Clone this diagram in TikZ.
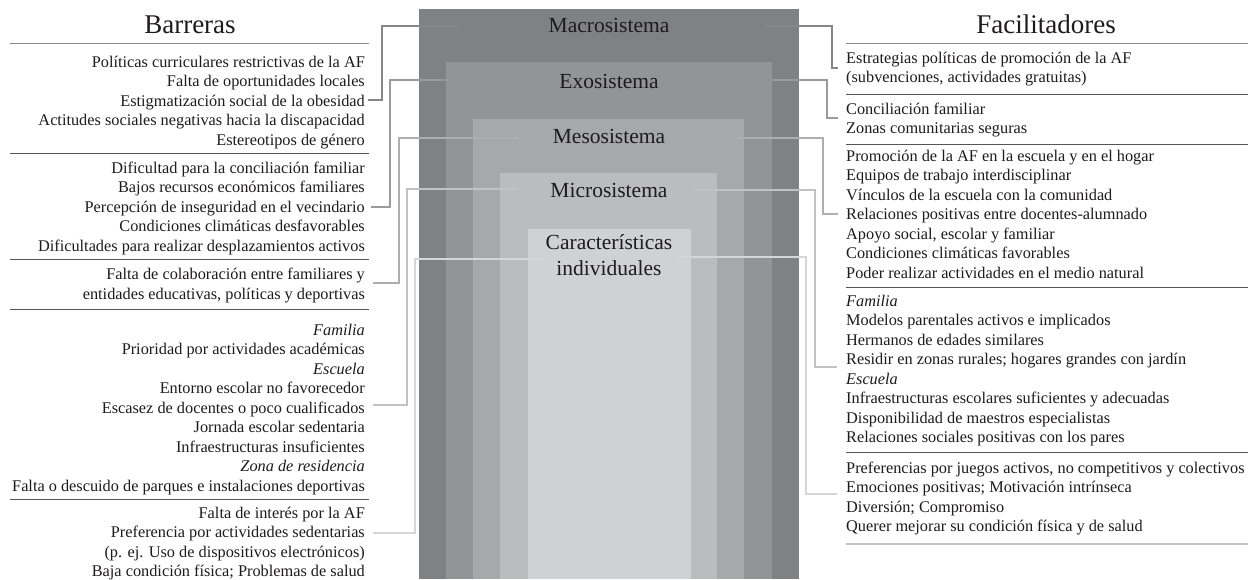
\documentclass[tikz,border=0pt]{standalone}
\usepackage{fontspec}
\setmainfont{Liberation Serif}
\definecolor{cMa}{HTML}{808185}
\definecolor{cEx}{HTML}{939498}
\definecolor{cMe}{HTML}{A7A8AB}
\definecolor{cMi}{HTML}{BBBCBF}
\definecolor{cIn}{HTML}{D0D1D3}
\definecolor{lMa}{HTML}{87878A}
\definecolor{lEx}{HTML}{9A9A9D}
\definecolor{lMe}{HTML}{AEAEB0}
\definecolor{lMi}{HTML}{C2C2C4}
\definecolor{lIn}{HTML}{D6D6D8}
\definecolor{ink}{HTML}{1E1B1C}
\definecolor{sepc}{HTML}{555555}
\definecolor{tsep}{HTML}{8A8A8A}
\begin{document}
\begin{tikzpicture}[x=1pt,y=-1pt,
  bl/.style={anchor=base east,inner sep=0pt,font=\fontsize{16.3}{19.5}\selectfont,text=ink},
  fl/.style={anchor=base west,inner sep=0pt,font=\fontsize{16.3}{19.5}\selectfont,text=ink},
  lvl/.style={anchor=base,inner sep=0pt,font=\fontsize{21.5}{26}\selectfont,text=ink},
  ttl/.style={anchor=base,inner sep=0pt,font=\fontsize{27}{32}\selectfont,text=ink},
  sepline/.style={draw=sepc,line width=1pt},
  tline/.style={draw=tsep,line width=0.9pt},
  cn/.style={line width=1.3pt}]
\useasboundingbox (0,0) rectangle (1253,579);
\fill[white] (0,0) rectangle (1253,579);
% nested systems
\fill[cMa] (419,9) rectangle (799,579);
\fill[cEx] (446,62) rectangle (772,579);
\fill[cMe] (473,119) rectangle (744,579);
\fill[cMi] (500,173) rectangle (717,579);
\fill[cIn] (528,229) rectangle (691,579);
\node[lvl] (macro) at (609,32) {Macrosistema};
\node[lvl] (exo) at (609,88) {Exosistema};
\node[lvl] (meso) at (609,143) {Mesosistema};
\node[lvl] (micro) at (609,197) {Microsistema};
\node[lvl] (indiv) at (609,249) {Características};
\node[lvl] (indiv2) at (609,275) {individuales};
% titles
\node[ttl] (tB) at (190,33) {Barreras};
\node[ttl] (tF) at (1046,33) {Facilitadores};
% separators left
\draw[tline] (10,43) -- (369,43);
\draw[sepline] (10,153) -- (369,153);
\draw[sepline] (10,259) -- (369,259);
\draw[sepline] (10,309) -- (369,309);
\draw[sepline] (10,499) -- (369,499);
% separators right
\draw[tline] (846,43) -- (1248,43);
\draw[sepline] (846,94) -- (1248,94);
\draw[sepline] (846,144) -- (1248,144);
\draw[sepline] (846,287) -- (1248,287);
\draw[sepline] (846,452) -- (1248,452);
\draw[draw=lMi,line width=1.5pt] (846,544) -- (1248,544);
% barriers
\node[bl] (bA1) at (365,67) {Políticas curriculares restrictivas de la AF};
\node[bl] (bA2) at (365,86.5) {Falta de oportunidades locales};
\node[bl] (bA3) at (365,106) {Estigmatización social de la obesidad};
\node[bl] (bA4) at (365,125.5) {Actitudes sociales negativas hacia la discapacidad};
\node[bl] (bA5) at (365,145) {Estereotipos de género};
\node[bl] (bB1) at (365,173) {Dificultad para la conciliación familiar};
\node[bl] (bB2) at (365,192.5) {Bajos recursos económicos familiares};
\node[bl] (bB3) at (365,212) {Percepción de inseguridad en el vecindario};
\node[bl] (bB4) at (365,231.5) {Condiciones climáticas desfavorables};
\node[bl] (bB5) at (365,251) {Dificultades para realizar desplazamientos activos};
\node[bl] (bC1) at (365,279.5) {Falta de colaboración entre familiares y};
\node[bl] (bC2) at (365,299) {entidades educativas, políticas y deportivas};
\node[bl] (bD1) at (365,335) {\textit{Familia}};
\node[bl] (bD2) at (365,354.5) {Prioridad por actividades académicas};
\node[bl] (bD3) at (365,374) {\textit{Escuela}};
\node[bl] (bD4) at (365,393.5) {Entorno escolar no favorecedor};
\node[bl] (bD5) at (365,413) {Escasez de docentes o poco cualificados};
\node[bl] (bD6) at (365,432.5) {Jornada escolar sedentaria};
\node[bl] (bD7) at (365,452) {Infraestructuras insuficientes};
\node[bl] (bD8) at (365,471.5) {\textit{Zona de residencia}};
\node[bl] (bD9) at (365,491) {Falta o descuido de parques e instalaciones deportivas};
\node[bl] (bE1) at (365,518) {Falta de interés por la AF};
\node[bl] (bE2) at (365,537.5) {Preferencia por actividades sedentarias};
\node[bl] (bE3) at (365,557) {(p. ej. Uso de dispositivos electrónicos)};
\node[bl] (bE4) at (365,576.5) {Baja condición física; Problemas de salud};
% facilitators
\node[fl] (fA1) at (846,63) {Estrategias políticas de promoción de la AF};
\node[fl] (fA2) at (846,82.5) {(subvenciones, actividades gratuitas)};
\node[fl] (fB1) at (846,114) {Conciliación familiar};
\node[fl] (fB2) at (846,133.5) {Zonas comunitarias seguras};
\node[fl] (fC1) at (846,161) {Promoción de la AF en la escuela y en el hogar};
\node[fl] (fC2) at (846,180.5) {Equipos de trabajo interdisciplinar};
\node[fl] (fC3) at (846,200) {Vínculos de la escuela con la comunidad};
\node[fl] (fC4) at (846,219.5) {Relaciones positivas entre docentes-alumnado};
\node[fl] (fC5) at (846,239) {Apoyo social, escolar y familiar};
\node[fl] (fC6) at (846,258.5) {Condiciones climáticas favorables};
\node[fl] (fC7) at (846,278) {Poder realizar actividades en el medio natural};
\node[fl] (fD1) at (846,306) {\textit{Familia}};
\node[fl] (fD2) at (846,325.5) {Modelos parentales activos e implicados};
\node[fl] (fD3) at (846,345) {Hermanos de edades similares};
\node[fl] (fD4) at (846,364.5) {Residir en zonas rurales; hogares grandes con jardín};
\node[fl] (fD5) at (846,384) {\textit{Escuela}};
\node[fl] (fD6) at (846,403.5) {Infraestructuras escolares suficientes y adecuadas};
\node[fl] (fD7) at (846,423) {Disponibilidad de maestros especialistas};
\node[fl] (fD8) at (846,442.5) {Relaciones sociales positivas con los pares};
\node[fl] (fE1) at (846,473) {Preferencias por juegos activos, no competitivos y colectivos};
\node[fl] (fE2) at (846,492.5) {Emociones positivas; Motivación intrínseca};
\node[fl] (fE3) at (846,512) {Diversión; Compromiso};
\node[fl] (fE4) at (846,531.5) {Querer mejorar su condición física y de salud};
% connector anchors
\coordinate (maL) at (458,26);  \coordinate (maLe) at (368,100);
\coordinate (exL) at (448,80);  \coordinate (exLe) at (371,207);
\coordinate (meL) at (518,138); \coordinate (meLe) at (373,283);
\coordinate (miL) at (518,189); \coordinate (miLe) at (373,405);
\coordinate (inL) at (543,259); \coordinate (inLe) at (373,533);
\coordinate (maR) at (767,26);  \coordinate (maRe) at (838,68);
\coordinate (exR) at (772,80);  \coordinate (exRe) at (838,118);
\coordinate (meR) at (738,138); \coordinate (meRe) at (838,214);
\coordinate (miR) at (695,190); \coordinate (miRe) at (837,367);
\coordinate (inR) at (678,257); \coordinate (inRe) at (837,494);
% connectors
\draw[cn,lMa] (maL) -| ([xshift=14]maLe) -- (maLe);
\draw[cn,lEx] (exL) -| ([xshift=19]exLe) -- (exLe);
\draw[cn,lMe] (meL) -| ([xshift=26]meLe) -- (meLe);
\draw[cn,lMi] (miL) -| ([xshift=34]miLe) -- (miLe);
\draw[cn,lIn] (inL) -| ([xshift=42]inLe) -- (inLe);
\draw[cn,lMa] (maR) -| ([xshift=-6]maRe) -- (maRe);
\draw[cn,lEx] (exR) -| ([xshift=-11]exRe) -- (exRe);
\draw[cn,lMe] (meR) -| ([xshift=-15]meRe) -- (meRe);
\draw[cn,lMi] (miR) -| ([xshift=-22]miRe) -- (miRe);
\draw[cn,lIn] (inR) -| ([xshift=-31]inRe) -- (inRe);
\end{tikzpicture}
\end{document}
